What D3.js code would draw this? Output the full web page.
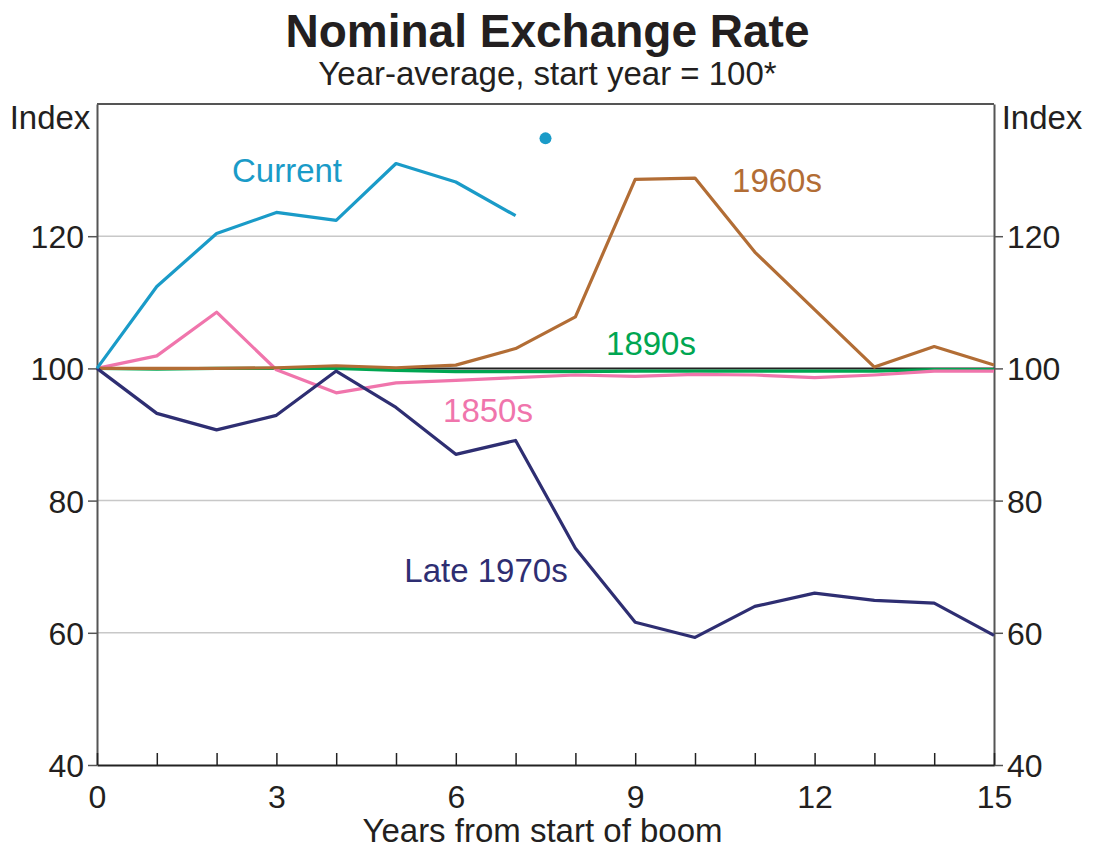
<!DOCTYPE html>
<html>
<head>
<meta charset="utf-8">
<script src="https://cdn.jsdelivr.net/npm/d3@7"></script>
<style>
  body { margin: 0; background: #fff; }
  text { font-family: "Liberation Sans", Arial, sans-serif; }
</style>
</head>
<body>
<div id="chart"></div>
<script>
// years from start of boom
var years = [0,1,2,3,4,5,6,7,8,9,10,11,12,13,14,15];

// index values, start year = 100
var current   = [100,112.4,120.4,123.6,122.4,131.0,128.2,123.1];
var currentDot = {x: 7.5, y: 134.8};
var s1960s    = [100,100,100,100.1,100.4,100.1,100.5,103.0,107.8,128.6,128.8,117.6,108.9,100.2,103.3,100.5];
var s1850s    = [100,101.9,108.5,99.8,96.3,97.8,98.2,98.6,99.0,98.8,99.1,99.0,98.6,99.0,99.6,99.6];
var s1890s    = [100,99.9,100,100,100,99.7,99.5,99.5,99.5,99.6,99.6,99.6,99.6,99.6,99.8,99.8];
var late1970s = [100,93.2,90.7,92.9,99.6,94.1,87.0,89.1,72.8,61.6,59.3,64.0,66.0,64.9,64.5,59.6];

var yTicks = [40,60,80,100,120];
var xTicks = [0,3,6,9,12,15];

var width = 1093, height = 852;
var margin = {top: 104, right: 99, bottom: 87, left: 97};
var w = width - margin.left - margin.right,
    h = height - margin.top - margin.bottom;

var svg = d3.select("#chart").append("svg")
    .attr("width", width)
    .attr("height", height);

var x = d3.scaleLinear().domain([0, 15]).range([margin.left, margin.left + w]);
var y = d3.scaleLinear().domain([40, 140]).range([margin.top + h, margin.top]);

// title
svg.append("text").attr("x", width / 2 + 1).attr("y", 47)
   .attr("text-anchor", "middle").style("font-size", "46px").style("font-weight", "bold")
   .attr("fill", "#231f20").text("Nominal Exchange Rate");
svg.append("text").attr("x", width / 2 + 1).attr("y", 85)
   .attr("text-anchor", "middle").style("font-size", "33px")
   .attr("fill", "#231f20").text("Year-average, start year = 100*");

// gridlines
svg.append("g").selectAll("line")
   .data(yTicks.filter(function(d) { return d != 40 && d != 100; }))
   .enter().append("line")
   .attr("x1", margin.left).attr("x2", margin.left + w)
   .attr("y1", function(d) { return y(d); }).attr("y2", function(d) { return y(d); })
   .attr("stroke", "#c8c8c8").attr("stroke-width", 1.5);

// y axes both sides
var yl = svg.append("g").attr("transform", "translate(" + margin.left + ",0)")
   .call(d3.axisLeft(y).tickValues(yTicks).tickSizeInner(9).tickSizeOuter(0).tickPadding(4));
var yr = svg.append("g").attr("transform", "translate(" + (margin.left + w) + ",0)")
   .call(d3.axisRight(y).tickValues(yTicks).tickSizeInner(9).tickSizeOuter(0).tickPadding(4));
[yl, yr].forEach(function(a) {
  a.select(".domain").attr("stroke", "#555").attr("stroke-width", 2);
  a.selectAll(".tick line").attr("stroke", "#555").attr("stroke-width", 1.5);
  a.selectAll(".tick text").style("font-size", "32px").attr("fill", "#231f20").attr("dy", "0.36em");
});
// top border
svg.append("line").attr("x1", margin.left).attr("x2", margin.left + w)
   .attr("y1", margin.top).attr("y2", margin.top)
   .attr("stroke", "#555").attr("stroke-width", 2);

// x axis, ticks inside
var xa = svg.append("g").attr("transform", "translate(0," + (margin.top + h) + ")")
   .call(d3.axisBottom(x).tickValues(years).tickSizeInner(-12).tickSizeOuter(0).tickPadding(20)
         .tickFormat(function(d) { return xTicks.indexOf(d) >= 0 ? d : ""; }));
xa.select(".domain").attr("stroke", "#222").attr("stroke-width", 2);
xa.selectAll(".tick line").attr("stroke", "#222").attr("stroke-width", 1.5);
xa.selectAll(".tick text").style("font-size", "32px").attr("fill", "#231f20");

svg.append("text").attr("x", 50).attr("y", 129).attr("text-anchor", "middle")
   .style("font-size", "33px").attr("fill", "#231f20").text("Index");
svg.append("text").attr("x", 1042).attr("y", 129).attr("text-anchor", "middle")
   .style("font-size", "33px").attr("fill", "#231f20").text("Index");
svg.append("text").attr("x", margin.left + w / 2 - 3).attr("y", 842).attr("text-anchor", "middle")
   .style("font-size", "33px").attr("fill", "#231f20").text("Years from start of boom");

// 100 reference line
svg.append("line").attr("x1", margin.left).attr("x2", margin.left + w)
   .attr("y1", y(100)).attr("y2", y(100)).attr("stroke", "#222").attr("stroke-width", 2);

var line = d3.line()
    .x(function(d, i) { return x(years[i]); })
    .y(function(d) { return y(d); });

var series = [
  {name: "1890s", vals: s1890s, col: "#00a651", lx: 651, ly: 355},
  {name: "1850s", vals: s1850s, col: "#f075ac", lx: 488, ly: 422},
  {name: "1960s", vals: s1960s, col: "#b26d35", lx: 777, ly: 192},
  {name: "Late 1970s", vals: late1970s, col: "#2e2e72", lx: 486, ly: 582},
  {name: "Current", vals: current, col: "#1a9bc8", lx: 287, ly: 182}
];

svg.append("g").selectAll("path")
   .data(series).enter().append("path")
   .attr("d", function(d) { return line(d.vals); })
   .attr("fill", "none")
   .attr("stroke", function(d) { return d.col; })
   .attr("stroke-width", 3.2)
   .attr("stroke-linejoin", "round");

svg.append("circle").attr("cx", x(currentDot.x)).attr("cy", y(currentDot.y))
   .attr("r", 6).attr("fill", "#1a9bc8");

svg.append("g").selectAll("text")
   .data(series).enter().append("text")
   .attr("x", function(d) { return d.lx; })
   .attr("y", function(d) { return d.ly; })
   .attr("text-anchor", "middle")
   .style("font-size", "33px")
   .attr("fill", function(d) { return d.col; })
   .text(function(d) { return d.name; });
</script>
</body>
</html>
